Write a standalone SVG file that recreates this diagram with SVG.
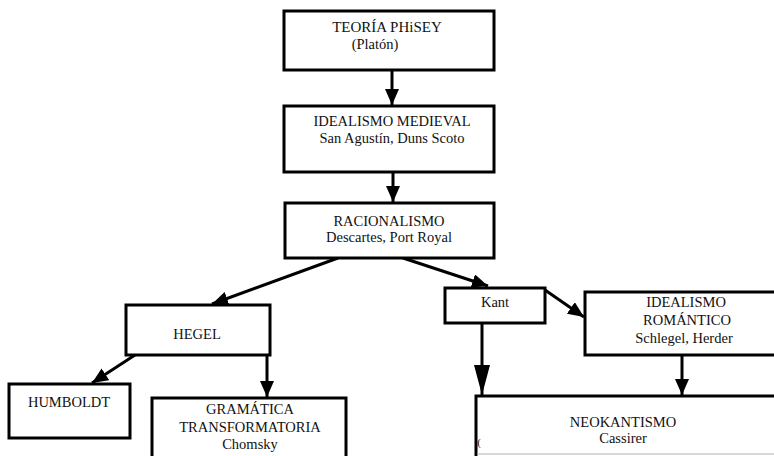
<svg xmlns="http://www.w3.org/2000/svg" width="774" height="456" viewBox="0 0 774 456">
  <style>
    .box { fill: #ffffff; stroke: #000000; stroke-width: 3; }
    .lbl { font-family: 'Liberation Serif', 'DejaVu Serif', serif; font-size: 14.5px; fill: #111111; text-anchor: middle; }
    .big { font-size: 15px; }
    .edge { stroke: #000000; stroke-width: 3; fill: none; marker-end: url(#head); }
    .edge-long { stroke: #000000; stroke-width: 3; fill: none; marker-end: url(#headLong); }
  </style>
  <defs>
    <marker id="head" markerUnits="userSpaceOnUse" markerWidth="16" markerHeight="14" refX="16" refY="7" orient="auto">
      <path d="M0,0 L16,7 L0,14 Z" fill="#000000"/>
    </marker>
    <marker id="headLong" markerUnits="userSpaceOnUse" markerWidth="30" markerHeight="16" refX="30" refY="8" orient="auto">
      <path d="M0,0 L30,8 L0,16 Z" fill="#000000"/>
    </marker>
  </defs>
  <rect width="774" height="456" fill="#ffffff"/>

  <g id="connectors">
    <line class="edge" x1="392" y1="70" x2="392" y2="105"/>
    <line class="edge" x1="393" y1="172" x2="393" y2="202"/>
    <line class="edge" x1="338" y1="258" x2="212" y2="304"/>
    <line class="edge" x1="403" y1="258" x2="488" y2="286"/>
    <line class="edge" x1="135" y1="355" x2="92" y2="383"/>
    <line class="edge" x1="267" y1="355" x2="267" y2="397"/>
    <line class="edge" x1="545" y1="290" x2="584" y2="317"/>
    <line class="edge-long" x1="482" y1="323" x2="482" y2="395"/>
    <line class="edge" x1="682" y1="355" x2="682" y2="395"/>
  </g>

  <g id="teoria-phisey">
    <rect class="box" x="284" y="11" width="210" height="59"/>
    <text class="lbl big" x="387" y="32" font-family="Liberation Serif, serif">TEORÍA PHiSEY</text>
    <text class="lbl" x="375" y="49" font-family="Liberation Serif, serif">(Platón)</text>
  </g>

  <g id="idealismo-medieval">
    <rect class="box" x="284" y="106" width="210" height="66"/>
    <text class="lbl" x="392" y="126">IDEALISMO MEDIEVAL</text>
    <text class="lbl" x="392" y="143">San Agustín, Duns Scoto</text>
  </g>

  <g id="racionalismo">
    <rect class="box" x="285" y="203" width="209" height="55"/>
    <text class="lbl" x="389" y="226">RACIONALISMO</text>
    <text class="lbl" x="389" y="242">Descartes, Port Royal</text>
  </g>

  <g id="hegel">
    <rect class="box" x="126" y="305" width="144" height="50"/>
    <text class="lbl" x="197" y="339">HEGEL</text>
  </g>

  <g id="humboldt">
    <rect class="box" x="9" y="384" width="121" height="54"/>
    <text class="lbl" x="69" y="407">HUMBOLDT</text>
  </g>

  <g id="gramatica-transformatoria">
    <rect class="box" x="152" y="398" width="194" height="62"/>
    <text class="lbl" x="250" y="414">GRAMÁTICA</text>
    <text class="lbl" x="250" y="432">TRANSFORMATORIA</text>
    <text class="lbl" x="250" y="449">Chomsky</text>
  </g>

  <g id="kant">
    <rect class="box" x="445" y="288" width="100" height="35"/>
    <text class="lbl" x="495" y="307">Kant</text>
  </g>

  <g id="idealismo-romantico">
    <rect class="box" x="585" y="292" width="195" height="63"/>
    <text class="lbl" x="686" y="307">IDEALISMO</text>
    <text class="lbl" x="687" y="325">ROMÁNTICO</text>
    <text class="lbl" x="684" y="343">Schlegel, Herder</text>
  </g>

  <g id="neokantismo">
    <rect class="box" x="476" y="396" width="304" height="64"/>
    <line x1="477" y1="454" x2="774" y2="454" stroke="#b0b0b0" stroke-width="1"/>
    <text class="lbl" x="623" y="427">NEOKANTISMO</text>
    <text class="lbl" x="623" y="443">Cassirer</text>
    <text class="lbl" x="479" y="446" style="font-size:11px">(</text>
  </g>
</svg>
